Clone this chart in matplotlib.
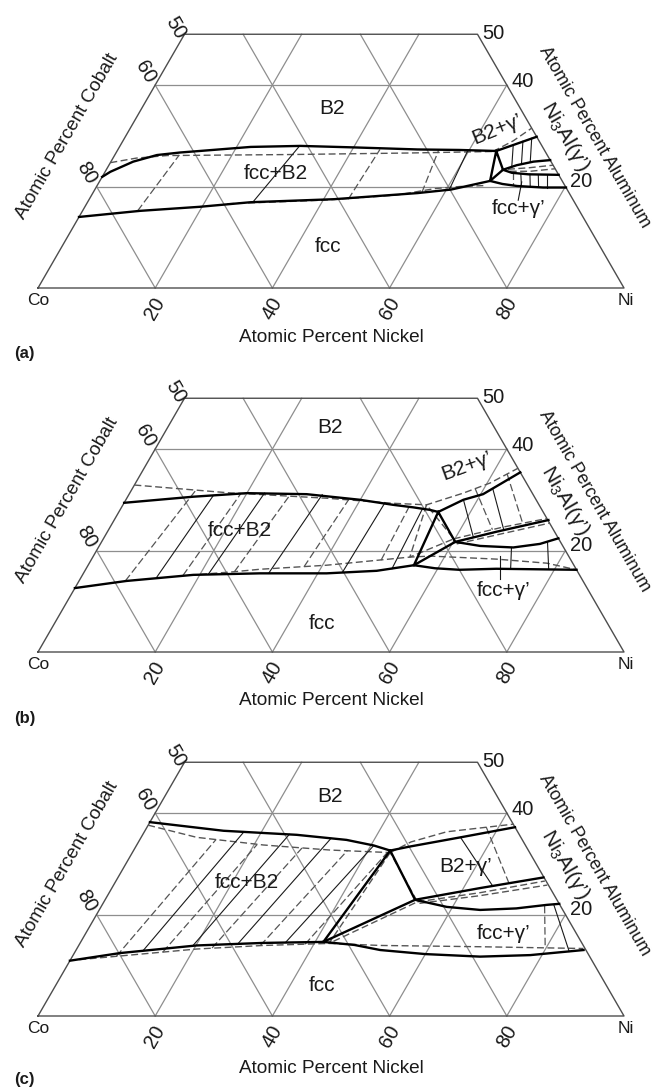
import numpy as np
import matplotlib.pyplot as plt

plt.rcParams['font.family'] = ['Liberation Sans', 'DejaVu Sans']
plt.rcParams['mathtext.fontset'] = 'custom'
plt.rcParams['mathtext.rm'] = 'Liberation Sans'
plt.rcParams['mathtext.default'] = 'regular'

# all compositions are (at.% Ni, at.% Al), Co is the balance

# ---- (a) ----
a_b2 = [(0, 21.9), (0.9, 22.9), (3.8, 24.9), (7.2, 26.2), (10.9, 26.7), (14.1, 27.0), (22.4, 27.8),
        (30.8, 28.0), (40.2, 27.7), (51.1, 27.3), (58.3, 27.2), (64.7, 27.0)]
a_fcc = [(0, 14.0), (9.8, 15.2), (19.6, 16.0), (27.8, 16.9), (41.8, 17.5), (55.4, 18.7), (60.8, 19.4), (66.6, 21.1)]
a_tri = [(64.7, 27.0), (66.6, 21.1), (67.7, 23.3), (64.7, 27.0)]
a_b2_gp = [(64.7, 27.0), (70.2, 29.8)]
a_gp_up = [(67.7, 23.3), (69.6, 24.2), (72.1, 24.9), (74.8, 25.2)]
a_gp_lo = [(67.7, 23.3), (69.5, 22.7), (72.5, 22.4), (77.7, 22.3)]
a_fcc_gp = [(66.6, 21.1), (69.0, 20.5), (71.7, 20.1), (76.3, 19.8), (80.2, 19.8)]
a_b2_calc = [(0, 24.7), (4, 25.6), (9, 26.1), (30, 26.3), (50, 26.6), (64.2, 26.9)]
a_fcc_calc = [(24, 16.6), (40, 17.3), (52, 18.3), (58, 19.6), (62, 20.0), (66.4, 20.2)]
a_b2_gp_calc = [(64.2, 26.9), (66.6, 29.0), (68.5, 31.5)]
a_gp_calc1 = [(68.5, 23.4), (72.0, 23.7), (75.8, 24.2)]
a_gp_calc2 = [(69.0, 23.0), (72.5, 23.0), (76.5, 23.5)]
a_ties = [((28.2, 16.9), (30.6, 27.8)), ((60.5, 19.3), (59.8, 27.1)),
          ((67.0, 28.2), (68.9, 23.9)), ((68.3, 28.9), (70.3, 24.4)), ((69.5, 29.5), (71.6, 24.8)),
          ((71.2, 22.4), (72.5, 20.0)), ((72.75, 22.4), (74.05, 19.9)), ((74.2, 22.35), (75.5, 19.85)),
          ((75.65, 22.3), (76.9, 19.8)), ((73.3, 17.3), (72.1, 20.9))]
a_ties_calc = [((9.4, 15.2), (11.0, 26.2)), ((44.2, 17.5), (44.7, 27.3)), ((56.1, 18.8), (54.8, 27.1)),
               ((69.7, 22.8), (71.0, 20.2))]

# ---- (b) ----
b_b2 = [(0, 29.4), (11.2, 30.6), (20.0, 31.3), (30.3, 31.1), (39.9, 30.0), (46.1, 29.0), (49.8, 28.5),
        (52.9, 28.0), (54.5, 27.6)]
b_fcc = [(0, 12.6), (8.1, 14.0), (18.9, 15.2), (30.1, 15.5), (41.5, 15.5), (49.8, 16.0), (55.6, 17.1)]
b_tri = [(54.5, 27.6), (55.6, 17.1), (60.35, 21.7), (54.5, 27.6)]
b_b2_gp = [(54.5, 27.6), (57.6, 30.0), (60.4, 31.1), (64.6, 35.4)]
b_gp_up = [(60.35, 21.7), (66.4, 23.7), (74.1, 26.0)]
b_gp_lo = [(60.35, 21.7), (65.0, 20.9), (70.8, 20.6), (75.0, 21.3), (77.6, 22.4)]
b_fcc_gp = [(55.6, 17.1), (59.5, 16.5), (63.8, 16.2), (70.0, 16.4), (83.8, 16.2)]
b_b2_calc = [(0, 32.9), (16.5, 31.4), (34.1, 30.3), (46, 29.3), (51.8, 29.0), (56.9, 31.3), (60.5, 33.3),
             (63.8, 36.2)]
b_fcc_calc = [(20, 15.3), (25.4, 15.8), (29.7, 16.3), (40.7, 17.1), (54.1, 18.7), (57.5, 18.9), (69.1, 18.3),
              (78.1, 17.5), (83.8, 16.2)]
b_tri_calc = [(51.8, 29.0), (54.1, 18.7), (59.8, 22.3), (51.8, 29.0)]
b_gp_calc1 = [(59.8, 22.3), (67.0, 24.6), (73.7, 26.3)]
b_gp_calc2 = [(60.8, 21.3), (67.5, 23.3), (74.6, 25.4)]
b_ties = [((12.9, 14.8), (14.5, 30.8)), ((21.4, 15.3), (23.0, 31.3)), ((31.6, 15.5), (33.0, 31.0)),
          ((44.1, 15.7), (44.5, 29.4)), ((52.2, 16.4), (51.5, 28.2)),
          ((57.6, 30.0), (63.0, 22.6)), ((61.5, 32.2), (67.5, 24.0)),
          ((70.5, 20.6), (72.5, 16.3)), ((76.15, 21.6), (79.0, 16.3)), ((71.6, 14.4), (69.35, 18.9))]
b_ties_calc = [((7.9, 14.0), (11.0, 31.9)), ((17.2, 15.1), (19.0, 31.2)), ((25.6, 15.8), (27.5, 30.7)),
               ((37.0, 16.8), (38.0, 30.0)), ((49.5, 18.1), (49.0, 29.1)),
               ((58.5, 32.2), (65.5, 24.1)), ((62.5, 35.1), (70.0, 25.4))]

# ---- (c) ----
c_b2 = [(0, 38.2), (13.4, 36.5), (26.3, 35.7), (35.3, 34.7), (40.5, 33.6), (43.8, 32.6)]
c_fcc = [(0, 10.9), (7.8, 12.4), (20.1, 13.9), (31.2, 14.4), (41.4, 14.6)]
c_tri = [(43.8, 32.6), (41.4, 14.6), (52.9, 22.9), (43.8, 32.6)]
c_b2_gp = [(43.8, 32.6), (46.8, 33.4), (54.9, 35.3), (62.8, 37.2)]
c_gp_up = [(52.9, 22.9), (62.8, 25.2), (72.6, 27.3)]
c_gp_lo = [(52.9, 22.9), (59.0, 21.5), (65.0, 20.9), (71.0, 21.2), (75.9, 21.9), (77.9, 22.1)]
c_fcc_gp = [(41.4, 14.6), (47.0, 14.0), (51.9, 13.0), (60.0, 12.2), (69.6, 11.7), (78.0, 12.0), (86.6, 13.0)]
c_b2_calc = [(0, 37.6), (9.5, 35.2), (21.6, 33.7), (33.5, 32.7), (44.0, 32.2)]
c_b2_gp_calc = [(44.0, 32.2), (46.5, 34.3), (51.6, 36.3), (62.2, 37.8)]
c_fcc_calc = [(1.5, 11.1), (20.5, 13.2), (31.5, 13.9), (42.5, 14.3), (51.5, 13.9), (68.6, 13.65), (86.4, 13.3)]
c_tri_calc = [(44.0, 32.2), (42.5, 14.3), (53.5, 22.5), (44.0, 32.2)]
c_gp_calc1 = [(53.5, 22.5), (63.3, 24.3), (73.2, 26.6)]
c_gp_calc2 = [(54.0, 22.2), (63.5, 23.7), (74.0, 25.8)]
c_ties = [((11.5, 12.9), (17.0, 36.3)), ((19.5, 13.85), (25.0, 35.8)), ((27.0, 14.25), (32.5, 35.0)),
          ((35.0, 14.5), (40.5, 33.6)), ((54.5, 35.2), (64.8, 25.6)), ((77.0, 22.0), (84.3, 12.7))]
c_ties_calc = [((7.5, 11.8), (13.0, 34.8)), ((15.0, 12.6), (20.5, 33.8)), ((23.0, 13.4), (28.5, 33.1)),
               ((31.0, 13.9), (36.5, 32.6)), ((38.5, 14.15), (43.5, 32.2)),
               ((57.9, 37.2), (67.6, 25.8)), ((75.6, 21.7), (79.8, 13.5))]

# region labels: text, (Ni, Al), rotation
a_labels = [('B2', (32.5, 35.45), 0), ('fcc+B2', (29.2, 22.6), 0), ('fcc', (45.4, 8.1), 0),
            ('B2+γ’', (62.7, 31.2), 22), ('fcc+γ’', (74.15, 15.7), 0)]
b_labels = [('B2', (27.65, 44.3), 0), ('fcc+B2', (22.5, 24.0), 0), ('fcc', (45.55, 5.7), 0),
            ('B2+γ’', (54.9, 36.6), 20), ('fcc+γ’', (73.3, 12.2), 0)]
c_labels = [('B2', (28.2, 43.2), 0), ('fcc+B2', (22.5, 26.4), 0), ('fcc', (45.35, 6.1), 0),
            ('B2+γ’', (58.2, 29.4), 0), ('fcc+γ’', (71.25, 16.3), 0)]

SQ = np.sqrt(3) / 2
PX = 5.86          # pixels per at.% along Co-Ni edge
X0 = 38            # Co corner, px
GRID = '#8e8e8e'
EDGE = '#4d4d4d'
DASH = '#555555'
INK = '#1a1a1a'


def tern(pts):
    p = np.asarray(pts, dtype=float)
    return p[:, 0] + p[:, 1] / 2, p[:, 1] * SQ


def draw_panel(ax, solid, dashed, ties, ties_calc, labels, tag, title_y, tag_y):
    for al in (20, 40):
        ax.plot(*tern([(0, al), (100 - al, al)]), color=GRID, lw=0.9, zorder=1)
    for n in (20, 40, 60, 80):
        top = min(50, 100 - n)
        # constant Ni
        ax.plot(*tern([(n, 0), (n, top)]), color=GRID, lw=0.9, zorder=1)
        # constant Co (= n)
        ax.plot(*tern([(100 - n, 0), (100 - n - top, top)]), color=GRID, lw=0.9, zorder=1)
    ax.plot(*tern([(0, 0), (100, 0), (50, 50), (0, 50), (0, 0)]), color=EDGE, lw=1.0, zorder=2)

    for c in dashed:
        ax.plot(*tern(c), color=DASH, lw=1.0, dashes=(5, 2.5), zorder=3)
    for p, q in ties_calc:
        ax.plot(*tern([p, q]), color=DASH, lw=0.9, dashes=(6, 2.5), zorder=3)
    for p, q in ties:
        ax.plot(*tern([p, q]), color=INK, lw=0.8, zorder=3)
    for c in solid:
        ax.plot(*tern(c), color='black', lw=1.7, zorder=4, solid_joinstyle='round')

    for txt, pos, rot in labels:
        x, y = tern([pos])
        ax.text(x[0], y[0], txt, fontsize=15, rotation=rot, ha='center', va='center', color=INK, zorder=5)

    fs = 14.5
    for n in (20, 40, 60, 80):
        ax.text(n, -3.5, str(n), rotation=60, ha='center', va='center', fontsize=fs, color=INK)
    ax.text(0, -2.1, 'Co', ha='center', va='center', fontsize=12.5, color=INK)
    ax.text(100.3, -2.1, 'Ni', ha='center', va='center', fontsize=12.5, color=INK)
    for co, al in ((80, 20), (60, 40)):
        ax.text(al / 2 - 1.7, al * SQ + 2.3, str(co), rotation=-60, ha='center', va='center',
                fontsize=fs, color=INK)
    ax.text(23.4, 44.4, '50', rotation=-60, ha='center', va='center', fontsize=fs, color=INK)
    for al, dy in ((50, 0.1), (40, 0.6), (20, 0.8)):
        ax.text(100 - al / 2 + 0.75, al * SQ + dy, str(al), ha='left', va='center', fontsize=fs, color=INK)

    ax.text(89.9, 25.9, r'Ni$_3$Al(γ’)', rotation=-60, ha='center', va='center', fontsize=15, color=INK)
    ax.text(50, title_y, 'Atomic Percent Nickel', ha='center', va='center', fontsize=13.7, color=INK)
    ax.text(5.0, 25.8, 'Atomic Percent Cobalt', rotation=60, ha='center', va='center', fontsize=13.7,
            color=INK)
    ax.text(94.9, 25.7, 'Atomic Percent Aluminum', rotation=-60, ha='center', va='center', fontsize=13,
            color=INK)
    ax.text(-4.0, tag_y, tag, ha='left', va='center', fontsize=12, fontweight='bold', color=INK)


fig = plt.figure(figsize=(6.56, 10.89), dpi=100)
W, H = 656, 1089
rows = [(0, 364, 288), (364, 728, 652), (728, 1089, 1016)]

panels = [
    ([a_b2, a_fcc, a_tri, a_b2_gp, a_gp_up, a_gp_lo, a_fcc_gp],
     [a_b2_calc, a_fcc_calc, a_b2_gp_calc, a_gp_calc1, a_gp_calc2], a_ties, a_ties_calc, a_labels,
     '(a)', -8.5, -11.1),
    ([b_b2, b_fcc, b_tri, b_b2_gp, b_gp_up, b_gp_lo, b_fcc_gp],
     [b_b2_calc, b_fcc_calc, b_tri_calc, b_gp_calc1, b_gp_calc2], b_ties, b_ties_calc, b_labels,
     '(b)', -8.2, -11.3),
    ([c_b2, c_fcc, c_tri, c_b2_gp, c_gp_up, c_gp_lo, c_fcc_gp],
     [c_b2_calc, c_b2_gp_calc, c_fcc_calc, c_tri_calc, c_gp_calc1, c_gp_calc2], c_ties, c_ties_calc,
     c_labels, '(c)', -8.9, -10.9),
]

for (top, bot, base), args in zip(rows, panels):
    ax = fig.add_axes([0, 1 - bot / H, 1, (bot - top) / H])
    ax.set_xlim(-X0 / PX, (W - X0) / PX)
    ax.set_ylim(-(bot - base) / PX, (base - top) / PX)
    ax.axis('off')
    draw_panel(ax, *args)

fig.savefig('out.png', dpi=100, facecolor='white')
